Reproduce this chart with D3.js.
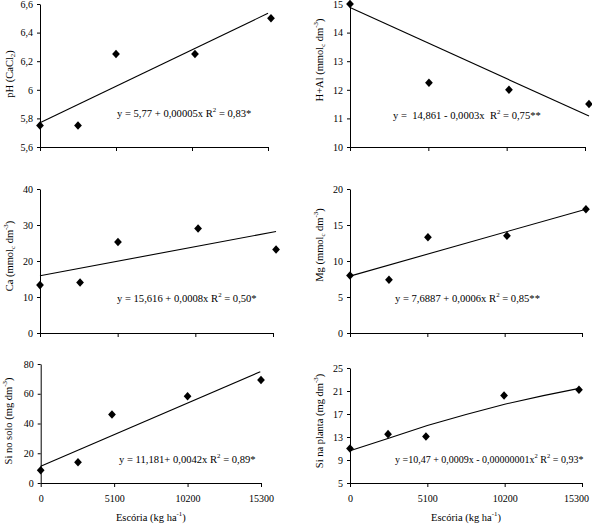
<!DOCTYPE html>
<html><head><meta charset="utf-8">
<script src="https://cdn.jsdelivr.net/npm/d3@7"></script>
<style>
body{margin:0;background:#fff}
svg{font-family:"Liberation Serif","Times New Roman",serif}
text{white-space:pre}
</style></head><body>
<svg id="c" width="592" height="526"></svg>
<script>
// ---------- data ----------
const xTickValues = [0, 5100, 10200, 15300];
const xTickLabels = ["0", "5100", "10200", "15300"];

const phX = [0, 2550, 5100, 10400, 15500];
const phY = [5.75, 5.75, 6.25, 6.25, 6.5];
const phFitX = [0, 15300];
const phFitY = [5.77, 6.535];
const phTicks = [5.6, 5.8, 6.0, 6.2, 6.4, 6.6];
const phTickLabels = ["5,6", "5,8", "6", "6,2", "6,4", "6,6"];

const halX = [0, 5140, 10350, 15560];
const halY = [15, 12.25, 12, 11.5];
const halFitX = [0, 15560];
const halFitY = [14.88, 11.08];
const halTicks = [10, 11, 12, 13, 14, 15];

const caX = [0, 2630, 5120, 10380, 15500];
const caY = [13.3, 14, 25.3, 29, 23.2];
const caFitX = [0, 15500];
const caFitY = [15.9, 28.2];
const caTicks = [0, 10, 20, 30, 40];

const mgX = [0, 2570, 5140, 10350, 15560];
const mgY = [8, 7.4, 13.3, 13.5, 17.2];
const mgFitX = [0, 15560];
const mgFitY = [7.9, 17.2];
const mgTicks = [0, 5, 10, 15, 20];

const soloX = [0, 2590, 4950, 10200, 15300];
const soloY = [8.5, 14, 46, 58.3, 69.2];
const soloFitX = [0, 15250];
const soloFitY = [11.2, 74.8];
const soloTicks = [0, 20, 40, 60, 80];

const plantaX = [0, 2510, 5010, 10160, 15100];
const plantaY = [11, 13.5, 13.1, 20.2, 21.2];
const plantaFitX = [0, 2550, 5100, 7650, 10200, 12750, 15200];
const plantaFitY = [10.6, 12.8, 15.0, 16.9, 18.7, 20.2, 21.5];
const plantaTicks = [5, 9, 13, 17, 21, 25];

// ---------- layout ----------
const panels = [
  {xr:[40,268], yr:[147,4], dom:[5.6,6.6], ticks:phTicks, tickLabels:phTickLabels,
   px:phX, py:phY, fx:phFitX, fy:phFitY, lab:{x:9,y:74}, eq:{x:117,y:113,fs:10.6}, xlabels:false,
   title:[["pH (CaCl",0],["2",-1],[")",0]],
   eqText:[["y = 5,77 + 0,00005x R",0],["2",1],[" = 0,83*",0]]},
  {xr:[350,585], yr:[147,4], dom:[10,15], ticks:halTicks,
   px:halX, py:halY, fx:halFitX, fy:halFitY, lab:{x:319,y:60}, eq:{x:393,y:115,fs:10.6}, xlabels:false,
   title:[["H+Al (mmol",0],["c",-1],[" dm",0],["-3",1],[")",0]],
   eqText:[["y =  14,861 - 0,0003x  R",0],["2",1],[" = 0,75**",0]]},
  {xr:[40,273], yr:[333,189], dom:[0,40], ticks:caTicks,
   px:caX, py:caY, fx:caFitX, fy:caFitY, lab:{x:9,y:256}, eq:{x:117,y:298,fs:10.6}, xlabels:false,
   title:[["Ca (mmol",0],["c",-1],[" dm",0],["-3",1],[")",0]],
   eqText:[["y = 15,616 + 0,0008x R",0],["2",1],[" = 0,50*",0]]},
  {xr:[350,582], yr:[333,189], dom:[0,20], ticks:mgTicks,
   px:mgX, py:mgY, fx:mgFitX, fy:mgFitY, lab:{x:319,y:245}, eq:{x:395,y:298,fs:10.6}, xlabels:false,
   title:[["Mg (mmol",0],["c",-1],[" dm",0],["-3",1],[")",0]],
   eqText:[["y = 7,6887 + 0,0006x R",0],["2",1],[" = 0,85**",0]]},
  {xr:[40.7,261], yr:[483,364], dom:[0,80], ticks:soloTicks,
   px:soloX, py:soloY, fx:soloFitX, fy:soloFitY, lab:{x:8,y:421}, eq:{x:119,y:459,fs:10.6}, xlabels:true, lastDx:0,
   title:[["Si no solo (mg dm",0],["-3",1],[")",0]],
   eqText:[["y = 11,181+ 0,0042x R",0],["2",1],[" = 0,89*",0]]},
  {xr:[350,582], yr:[483,368], dom:[5,25], ticks:plantaTicks,
   px:plantaX, py:plantaY, fx:plantaFitX, fy:plantaFitY, lab:{x:319,y:421}, eq:{x:395,y:459,fs:10}, xlabels:true, lastDx:-6,
   title:[["Si na planta (mg dm",0],["-3",1],[")",0]],
   eqText:[["y =10,47 + 0,0009x - 0,00000001x",0],["2",1],[" R",0],["2",1],[" = 0,93*",0]]}
];

const svg = d3.select("#c");
const FS = 10, FT = 10.5;

const diamond = {draw(ctx, size){ const r = Math.sqrt(size)/2;
  ctx.moveTo(0,-r*1.1); ctx.lineTo(r,0); ctx.lineTo(0,r*1.1); ctx.lineTo(-r,0); ctx.closePath(); }};

function addRich(sel, parts, fs){
  parts.forEach(([t,s])=>{
    const ts = sel.append("tspan").text(t);
    if(s===1){ ts.attr("font-size",fs*0.65).attr("baseline-shift","super"); }
    else if(s===-1){ ts.attr("font-size",fs*0.65).attr("baseline-shift","sub"); }
  });
}

panels.forEach(p=>{
  const x = d3.scaleLinear().domain([0,15300]).range(p.xr);
  const y = d3.scaleLinear().domain(p.dom).range(p.yr);
  const g = svg.append("g");

  const xa = d3.axisBottom(x).tickValues(xTickValues).tickSizeInner(4).tickSizeOuter(0).tickPadding(8)
    .tickFormat((d,i)=> p.xlabels ? xTickLabels[i] : "");
  const gx = g.append("g").attr("transform",`translate(0,${p.yr[0]})`).call(xa);
  if(p.xlabels && p.lastDx){
    gx.selectAll(".tick text").filter((d,i)=>i===xTickValues.length-1).attr("dx",p.lastDx);
  }
  const ya = d3.axisLeft(y).tickValues(p.ticks).tickSizeInner(3).tickSizeOuter(0).tickPadding(4)
    .tickFormat((d,i)=> p.tickLabels ? p.tickLabels[i] : String(d).replace(".",","));
  const gy = g.append("g").attr("transform",`translate(${p.xr[0]},0)`).call(ya);
  [gx,gy].forEach(a=>{
    a.selectAll("text").attr("font-family","Liberation Serif").attr("font-size",FS).attr("fill","#000");
    a.selectAll("line,path").attr("stroke","#000").attr("stroke-width",1);
  });

  const fit = p.fx.map((v,i)=>[v,p.fy[i]]);
  g.append("path").datum(fit)
    .attr("d", d3.line().x(d=>x(d[0])).y(d=>y(d[1])))
    .attr("fill","none").attr("stroke","#000").attr("stroke-width",1.1);

  const pts = p.px.map((v,i)=>[v,p.py[i]]);
  g.selectAll(".pt").data(pts).join("path")
    .attr("transform",d=>`translate(${x(d[0])},${y(d[1])})`)
    .attr("d", d3.symbol().type(diamond).size(60)).attr("fill","#000");

  const t = g.append("text")
    .attr("transform",`translate(${p.lab.x},${p.lab.y}) rotate(-90)`)
    .attr("text-anchor","middle").attr("dominant-baseline","central")
    .attr("font-size",FT);
  addRich(t, p.title, FT);

  const e = g.append("text").attr("x",p.eq.x).attr("y",p.eq.y)
    .attr("dominant-baseline","central").attr("font-size",p.eq.fs);
  addRich(e, p.eqText, p.eq.fs);

  if(p.xlabels){
    const xt = g.append("text").attr("x",(p.xr[0]+p.xr[1])/2).attr("y",517)
      .attr("text-anchor","middle").attr("dominant-baseline","central").attr("font-size",FT);
    addRich(xt, [["Escória (kg ha",0],["-1",1],[")",0]], FT);
  }
});
</script></body></html>
